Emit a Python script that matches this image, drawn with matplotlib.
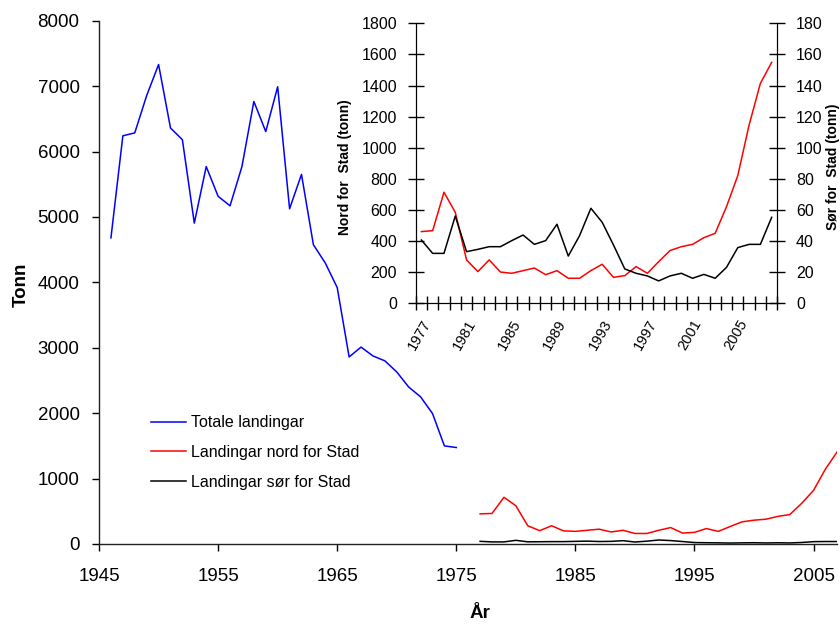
import matplotlib.pyplot as plt
import numpy as np

plt.rcParams["font.family"] = ["Liberation Sans", "DejaVu Sans"]

# Totale landingar 1946-1975
total_years = np.arange(1946, 1976)
total_tonn = [4680, 6240, 6285, 6855, 7330, 6360, 6180, 4905, 5770, 5315,
              5170, 5770, 6765, 6305, 6990, 5125, 5650, 4575, 4295, 3920,
              2860, 3010, 2875, 2800, 2630, 2400, 2250, 1995, 1500, 1475]

# Landingar nord og sør for Stad 1977-2008
split_years = np.arange(1977, 2009)
nord_tonn = [461, 467, 714, 585, 279, 204, 279, 201, 193, 210,
             227, 184, 210, 161, 161, 210, 251, 167, 178, 236,
             193, 268, 339, 364, 379, 422, 450, 621, 821, 1146,
             1414, 1549]
sor_tonn = [40.7, 32.1, 32.1, 56.1, 33.2, 34.7, 36.4, 36.4, 40.3, 43.9,
            37.9, 40.3, 50.8, 30.4, 43.5, 61.1, 52.1, 37.5, 22.1, 19.3,
            17.6, 14.4, 17.6, 19.3, 16.1, 18.6, 16.1, 23.1, 35.8, 37.9,
            37.9, 55.3]

main_xticks = np.arange(1945, 2006, 10)
main_yticks = np.arange(0, 8001, 1000)
inset_label_years = np.arange(1977, 2006, 4)

BLUE = "#0000ff"
RED = "#ff0000"
BLACK = "#000000"

fig = plt.figure(figsize=(8.4, 6.25), dpi=100)
fig.patch.set_facecolor("white")

# main chart
ax = fig.add_axes([0.1179, 0.1296, 0.879, 0.8373])
ax.plot(total_years, total_tonn, color=BLUE, lw=1.1, label="Totale landingar")
ax.plot(split_years, nord_tonn, color=RED, lw=1.1, label="Landingar nord for Stad")
ax.plot(split_years, sor_tonn, color=BLACK, lw=1.1, label="Landingar sør for Stad")
ax.set_xlim(1945, 2007)
ax.set_ylim(0, 8000)
ax.set_xticks(main_xticks)
ax.set_yticks(main_yticks)
for side in ("top", "right"):
    ax.spines[side].set_visible(False)
for side in ("left", "bottom"):
    ax.spines[side].set_color("#222222")
    ax.spines[side].set_linewidth(1.0)
ax.tick_params(axis="x", direction="out", length=5, width=1, pad=12, labelsize=13.5)
ax.tick_params(axis="y", direction="out", length=5, width=1, pad=9, labelsize=13.5)

ax.legend(loc="upper left", bbox_to_anchor=(0.1725, 0.346), bbox_transform=fig.transFigure,
          frameon=False, fontsize=11.5, handlelength=2.2, handletextpad=0.3,
          labelspacing=0.92, borderaxespad=0)

fig.text(0.025, 0.545, "Tonn", rotation=90, ha="center", va="center",
         fontsize=13.5, fontweight="bold")
fig.text(0.571, 0.018, "År", ha="center", va="center",
         fontsize=13.5, fontweight="bold")

# inset chart
inset = fig.add_axes([0.4949, 0.5147, 0.4305, 0.448])
inset.patch.set_alpha(0)
inset.plot(split_years, nord_tonn, color=RED, lw=1.1)
inset.set_xlim(1976.5, 2008.5)
inset.set_ylim(0, 1800)
inset.set_yticks(np.arange(0, 1801, 200))
inset.set_xticks(np.arange(1976.5, 2009, 1))
inset.set_xticklabels([])
inset.set_xticks(inset_label_years, minor=True)
inset.set_xticklabels([str(y) for y in inset_label_years], minor=True,
                      rotation=60, ha="right", va="top", rotation_mode="anchor",
                      fontsize=10.5)
inset.tick_params(axis="x", which="major", direction="inout", length=10, width=1)
inset.tick_params(axis="x", which="minor", length=0, pad=10)
inset.tick_params(axis="y", direction="inout", length=11, width=1, pad=8, labelsize=11.5)
inset.spines["top"].set_visible(False)

inset_r = inset.twinx()
inset_r.plot(split_years, sor_tonn, color=BLACK, lw=1.1)
inset_r.set_ylim(0, 180)
inset_r.set_yticks(np.arange(0, 181, 20))
inset_r.tick_params(axis="y", direction="inout", length=11, width=1, pad=8, labelsize=11.5)
inset_r.spines["top"].set_visible(False)

fig.text(0.411, 0.732, "Nord for  Stad (tonn)", rotation=90, ha="center", va="center",
         fontsize=10, fontweight="bold")
fig.text(0.992, 0.734, "Sør for  Stad (tonn)", rotation=90, ha="center", va="center",
         fontsize=10, fontweight="bold")

fig.savefig("out.png", dpi=100)
